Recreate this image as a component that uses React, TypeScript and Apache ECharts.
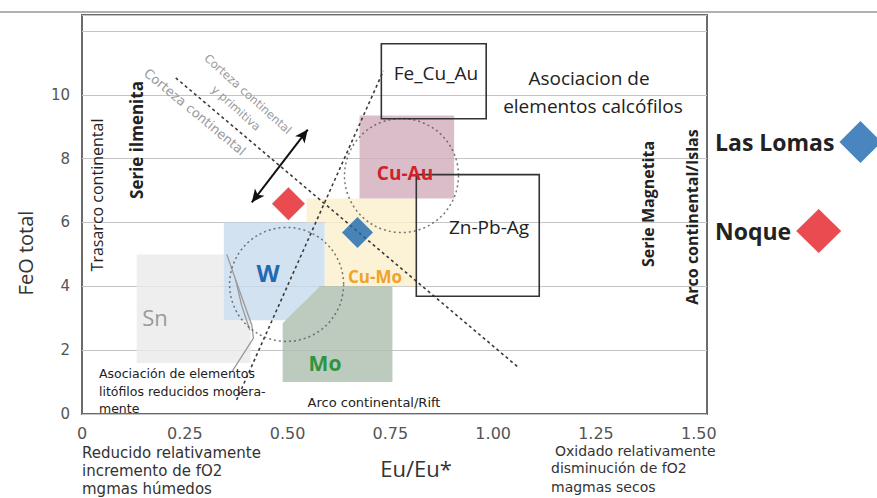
import React, { useEffect, useRef } from "react";
import * as echarts from "echarts";

// Axis ticks
const xTicks = [0, 0.25, 0.5, 0.75, 1.0, 1.25, 1.5];
const yTicks = [0, 2, 4, 6, 8, 10, 12];

// Samples (Eu/Eu*, FeO total)
const lasLomas = [[0.67, 5.69]];
const noque = [[0.502, 6.59]];

// Field polygons (Eu/Eu*, FeO)
const snField = [[0.133, 5.0], [0.345, 5.0], [0.345, 2.94], [0.41, 2.94], [0.41, 1.6], [0.133, 1.6]];
const cuMoField = [[0.546, 6.75], [0.81, 6.75], [0.81, 4.0], [0.59, 4.0], [0.59, 6.0], [0.546, 6.0]];
const wField = [[0.345, 6.0], [0.59, 6.0], [0.59, 4.0], [0.578, 4.0], [0.496, 2.94], [0.345, 2.94]];
const moField = [[0.488, 1.0], [0.755, 1.0], [0.755, 4.0], [0.578, 4.0], [0.488, 2.84]];
const cuAuField = [[0.675, 9.35], [0.905, 9.35], [0.905, 6.75], [0.675, 6.75]];
const feCuAuBox = [[0.728, 11.6], [0.983, 11.6], [0.983, 9.25], [0.728, 9.25]];
const znPbAgBox = [[0.813, 7.5], [1.112, 7.5], [1.112, 3.69], [0.813, 3.69]];

// Dotted trend lines
const crustLine = [[0.228, 10.53], [1.063, 1.44]];
const steepLine = [[0.376, 0.44], [0.733, 10.75]];
// Boundary lines between Sn and W
const boundaryA = [[0.352, 5.0], [0.374, 4.19], [0.413, 2.78], [0.417, 2.375], [0.364, 1.31]];
const boundaryB = [[0.374, 4.19], [0.388, 3.41], [0.408, 2.63]];
// Double arrow
const arrowStart = [0.413, 6.63];
const arrowEnd = [0.549, 8.91];
// Dotted circles (centres)
const circleCentres = [[0.4976, 4.06], [0.777, 7.47]];

const fields = [
  { pts: snField, fill: "rgba(234,234,234,0.8)", stroke: "none" },
  { pts: cuMoField, fill: "rgba(251,240,204,0.8)", stroke: "none" },
  { pts: wField, fill: "rgba(200,219,236,0.8)", stroke: "none" },
  { pts: moField, fill: "rgba(171,190,172,0.8)", stroke: "none" },
  { pts: cuAuField, fill: "rgba(210,172,187,0.8)", stroke: "none" },
];
const boxes = [
  { pts: feCuAuBox, fill: "none", stroke: "#333" },
  { pts: znPbAgBox, fill: "none", stroke: "#333" },
];

const F = "'Open Sans', sans-serif";
const D = "'DejaVu Sans', sans-serif";

function txt(text: string, x: number, y: number, size: number, opts: any = {}) {
  return {
    type: "text",
    x,
    y,
    rotation: opts.rot || 0,
    z: 100,
    style: {
      text,
      fontSize: size,
      fontFamily: opts.font || F,
      fontWeight: opts.bold ? "bold" : "normal",
      fill: opts.color || "#222",
      align: opts.align || "center",
      verticalAlign: "middle",
    },
  };
}

function polySeries(list: any[], z: number, lw: number) {
  return {
    type: "custom",
    z,
    silent: true,
    data: list.map((f) => f.pts[0]),
    encode: { x: 0, y: 1 },
    renderItem: (params: any, api: any) => {
      const f = list[params.dataIndex];
      return {
        type: "polygon",
        shape: { points: f.pts.map((p: number[]) => api.coord(p)) },
        style: { fill: f.fill, stroke: f.stroke, lineWidth: lw },
      };
    },
  };
}

function dotted(data: number[][], color: string, width: number, type: any, z = 3) {
  return {
    type: "line",
    data,
    symbol: "none",
    z,
    silent: true,
    lineStyle: { color, width, type },
  };
}

const legendBase = {
  left: 715,
  orient: "vertical",
  align: "right",
  padding: 0,
  itemWidth: 42,
  itemHeight: 42,
  textStyle: { fontFamily: F, fontSize: 23, fontWeight: "bold", color: "#222" },
};

export default function App() {
  const ref = useRef<HTMLDivElement>(null);
  useEffect(() => {
    const chart = echarts.init(ref.current!, null, { renderer: "svg" });
    const deg = Math.PI / 180;
    chart.setOption({
      animation: false,
      backgroundColor: "#fff",
      grid: {
        left: 82,
        top: 15,
        right: 170,
        bottom: 84,
        show: true,
        borderColor: "#6b6b6b",
        borderWidth: 2,
      },
      xAxis: {
        type: "value",
        min: 0,
        max: 1.52,
        interval: 0.25,
        axisLine: { show: false },
        axisTick: { show: false },
        splitLine: { show: false },
        axisLabel: {
          margin: 11,
          fontFamily: D,
          fontSize: 16,
          color: "#555",
          formatter: (v: number) => (xTicks.includes(v) ? (v === 0 ? "0" : v.toFixed(2)) : ""),
        },
      },
      yAxis: {
        type: "value",
        min: 0,
        max: 12.5,
        interval: 2,
        axisLine: { show: false },
        axisTick: { show: false },
        splitLine: { lineStyle: { color: "#c4c4c4", width: 1 } },
        axisLabel: {
          margin: 12,
          fontFamily: D,
          fontSize: 15,
          color: "#555",
          formatter: (v: number) => (yTicks.includes(v) && v <= 10 ? String(v) : ""),
        },
      },
      legend: [
        { ...legendBase, top: 121, data: [{ name: "Las Lomas", icon: "diamond" }] },
        { ...legendBase, top: 209, itemWidth: 45, itemHeight: 44, data: [{ name: "Noque", icon: "diamond" }] },
      ],
      series: [
        polySeries(fields, 1, 0),
        dotted(boundaryA, "#9a9a9a", 1.3, "solid", 2),
        dotted(boundaryB, "#9a9a9a", 1.3, "solid", 2),
        dotted(crustLine, "#3a3a3a", 1.6, [3, 3]),
        dotted(steepLine, "#3a3a3a", 1.6, [3, 3]),
        {
          type: "scatter",
          z: 3,
          silent: true,
          symbol: "circle",
          symbolSize: 114,
          data: circleCentres,
          itemStyle: { color: "rgba(0,0,0,0)", borderColor: "#555", borderWidth: 1.5, borderType: [2, 3] },
        },
        {
          type: "line",
          data: [],
          z: 4,
          markLine: {
            silent: true,
            symbol: ["arrow", "arrow"],
            symbolSize: [9, 13],
            label: { show: false },
            lineStyle: { color: "#111", width: 2, type: "solid" },
            data: [[{ coord: arrowStart }, { coord: arrowEnd }]],
          },
        },
        polySeries(boxes, 4, 1.6),
        {
          name: "Las Lomas",
          type: "scatter",
          z: 6,
          symbol: "diamond",
          symbolSize: 31,
          data: lasLomas,
          itemStyle: { color: "#1c67ae" },
        },
        {
          name: "Noque",
          type: "scatter",
          z: 6,
          symbol: "diamond",
          symbolSize: 33,
          data: noque,
          itemStyle: { color: "#e31e25" },
        },
      ],
      graphic: [
        { type: "line", shape: { x1: 0, y1: 12, x2: 877, y2: 12 }, style: { stroke: "#b0b0b0", lineWidth: 2 }, z: 50 },
        txt("FeO total", 25, 253, 20, { rot: Math.PI / 2, color: "#333" }),
        txt("Eu/Eu*", 416, 468, 22, { color: "#333" }),
        txt("Trasarco continental", 97, 195, 16, { rot: Math.PI / 2 }),
        txt("Serie ilmenita", 136, 140, 17, { rot: Math.PI / 2, bold: true }),
        txt("Serie Magnetita", 648, 204, 16, { rot: Math.PI / 2, bold: true }),
        txt("Arco continental/Islas", 692, 217, 16, { rot: Math.PI / 2, bold: true }),
        txt("Corteza continental", 195, 112, 13, { rot: -39.7 * deg, font: D, color: "#9a9a9a" }),
        txt("Corteza continental", 248, 94, 11.5, { rot: -42 * deg, font: D, color: "#9a9a9a" }),
        txt("y primitiva", 236, 108, 11.5, { rot: -42 * deg, font: D, color: "#9a9a9a" }),
        txt("Fe_Cu_Au", 436, 73, 19),
        txt("Asociacion de", 589, 78, 19),
        txt("elementos calcófilos", 593, 106, 19),
        txt("Cu-Au", 405, 173, 19, { bold: true, color: "#d0202a" }),
        txt("Zn-Pb-Ag", 489, 227, 19),
        txt("W", 268, 272, 24, { bold: true, color: "#2468b4" }),
        txt("Cu-Mo", 375, 276, 17, { bold: true, color: "#f0a22a" }),
        txt("Mo", 325, 363, 21, { bold: true, color: "#2e9440" }),
        txt("Sn", 155, 317, 22, { color: "#9a9a9a" }),
        txt("Asociación de elementos", 99, 373, 12.5, { font: D, align: "left" }),
        txt("litófilos reducidos modera-", 99, 391, 12.5, { font: D, align: "left" }),
        txt("mente", 99, 408, 12.5, { font: D, align: "left" }),
        txt("Arco continental/Rift", 374, 402, 13, { font: D }),
        txt("Reducido relativamente", 82, 453, 15, { font: D, align: "left", color: "#333" }),
        txt("incremento de fO2", 82, 471, 15, { font: D, align: "left", color: "#333" }),
        txt("mgmas húmedos", 82, 489, 15, { font: D, align: "left", color: "#333" }),
        txt("Oxidado relativamente", 555, 451, 14, { font: D, align: "left", color: "#333" }),
        txt("disminución de fO2", 551, 468, 14, { font: D, align: "left", color: "#333" }),
        txt("magmas secos", 551, 487, 14, { font: D, align: "left", color: "#333" }),
      ],
    });
    return () => chart.dispose();
  }, []);
  return (
    <div
      ref={ref}
      style={{ position: "fixed", left: 0, top: 0, width: 877, height: 498 }}
    />
  );
}
